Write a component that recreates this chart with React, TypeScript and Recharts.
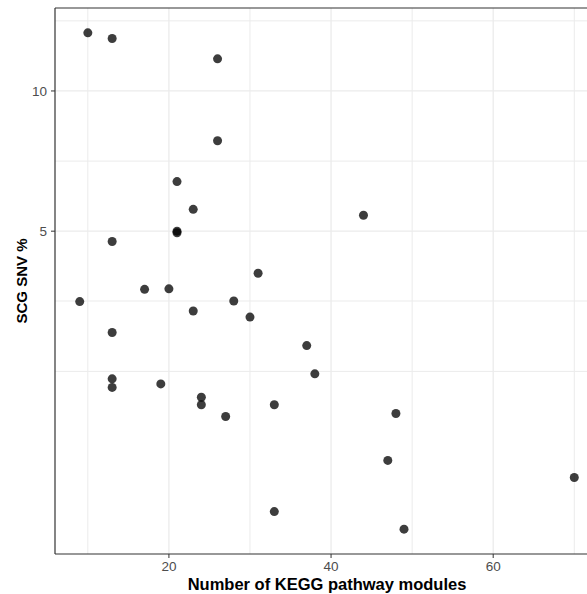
import { ScatterChart, Scatter, XAxis, YAxis, ReferenceLine } from "recharts";

// number of KEGG pathway modules per genome and the matching SCG SNV %
const keggModules = [10, 13, 26, 26, 21, 23, 21, 21, 13, 31, 17, 20, 9, 28, 23, 30, 13, 13, 13, 19, 24, 24, 27, 33, 33, 37, 38, 48, 47, 70, 49, 44];
const snvPercent = [13.33, 12.96, 11.72, 7.82, 6.39, 5.57, 5.0, 4.96, 4.75, 4.06, 3.75, 3.76, 3.53, 3.54, 3.37, 3.27, 3.03, 2.41, 2.31, 2.35, 2.2, 2.12, 2.0, 2.12, 1.25, 2.84, 2.47, 2.03, 1.61, 1.48, 1.146, 5.41];

const xTicks = [20, 40, 60];
const xMinorGrid = [10, 30, 50, 70];
const yTicks = [5, 10];
const yMinorGrid = [2.5, 3.54, 7.07, 14.14];

const points = keggModules.map((x, i) => ({ x, y: snvPercent[i] }));

// ggplot-style 5% expansion (y in log space)
const xMin = Math.min(...keggModules);
const xMax = Math.max(...keggModules);
const xPad = (xMax - xMin) * 0.05;
const xDomain = [xMin - xPad, xMax + xPad];
const lyMin = Math.log10(Math.min(...snvPercent));
const lyMax = Math.log10(Math.max(...snvPercent));
const lyPad = (lyMax - lyMin) * 0.05;
const yDomain = [Math.pow(10, lyMin - lyPad), Math.pow(10, lyMax + lyPad)];

const font = "'Liberation Sans', Arial, Helvetica, sans-serif";
const gridColor = "#ebebeb";
const inkColor = "#333333";

const Dot = (props: any) => (
  <circle cx={props.cx} cy={props.cy} r={4.5} fill="#000" fillOpacity={0.76} />
);

export default function App() {
  return (
    <div style={{ position: "absolute", left: 0, top: 0, width: 587, height: 594, overflow: "hidden", background: "#fff" }}>
      <ScatterChart width={612} height={594} margin={{ top: 8, right: 13, bottom: 0, left: 0 }}>
        {xMinorGrid.map((v) => (
          <ReferenceLine key={"xm" + v} x={v} stroke={gridColor} strokeWidth={1} />
        ))}
        {xTicks.map((v) => (
          <ReferenceLine key={"xM" + v} x={v} stroke={gridColor} strokeWidth={1.3} />
        ))}
        {yMinorGrid.map((v) => (
          <ReferenceLine key={"ym" + v} y={v} stroke={gridColor} strokeWidth={1} />
        ))}
        {yTicks.map((v) => (
          <ReferenceLine key={"yM" + v} y={v} stroke={gridColor} strokeWidth={1.3} />
        ))}
        <XAxis
          type="number"
          dataKey="x"
          domain={xDomain}
          allowDataOverflow
          ticks={xTicks}
          height={40}
          tickSize={4}
          tickMargin={3}
          axisLine={{ stroke: inkColor, strokeWidth: 1.2 }}
          tickLine={{ stroke: inkColor }}
          tick={{ fill: "#4d4d4d", fontSize: 13.5, fontFamily: font }}
          label={({ viewBox }: any) => (
            <text
              x={viewBox.x + viewBox.width / 2}
              y={viewBox.y + 36}
              textAnchor="middle"
              fontFamily={font}
              fontWeight="bold"
              fontSize={16.5}
              fill="#000"
            >
              Number of KEGG pathway modules
            </text>
          )}
        />
        <YAxis
          type="number"
          dataKey="y"
          scale="log"
          domain={yDomain}
          allowDataOverflow
          ticks={yTicks}
          width={55}
          tickSize={4}
          tickMargin={4}
          axisLine={{ stroke: inkColor, strokeWidth: 1.2 }}
          tickLine={{ stroke: inkColor }}
          tick={{ fill: "#4d4d4d", fontSize: 13.5, fontFamily: font }}
          label={({ viewBox }: any) => {
            const cx = 27;
            const cy = viewBox.y + viewBox.height / 2;
            return (
              <text
                x={cx}
                y={cy}
                transform={`rotate(-90 ${cx} ${cy})`}
                textAnchor="middle"
                fontFamily={font}
                fontWeight="bold"
                fontSize={15}
                fill="#000"
              >
                SCG SNV %
              </text>
            );
          }}
        />
        <ReferenceLine y={yDomain[1]} stroke={inkColor} strokeWidth={1.2} ifOverflow="visible" />
        <Scatter data={points} shape={Dot} isAnimationActive={false} />
      </ScatterChart>
    </div>
  );
}
